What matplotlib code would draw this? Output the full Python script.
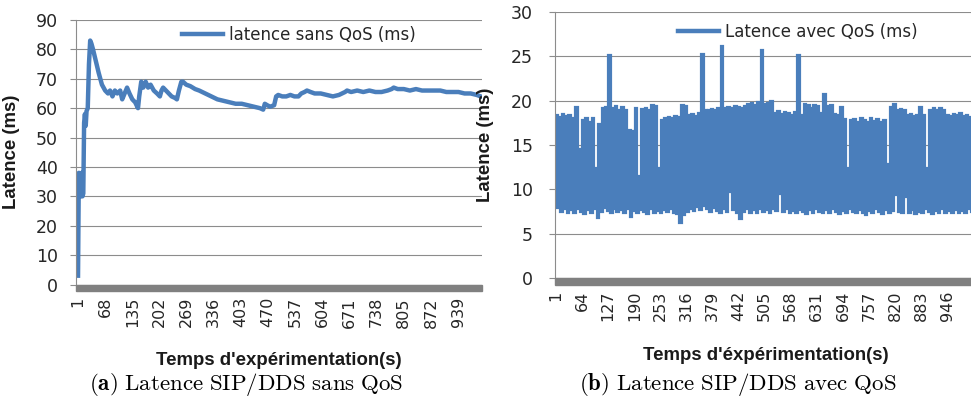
import numpy as np
import matplotlib.pyplot as plt
from matplotlib.patches import Rectangle

plt.rcParams['mathtext.fontset'] = 'cm'

BLEU = '#4a7ebb'
GRILLE = '#8c8c8c'
TEXTE = '#262626'
OUTPUT_IMAGE = 'out.png'

# (a) latence SIP/DDS sans QoS
temps_a = [1, 3, 5, 8, 10, 12, 14, 16, 18, 20, 22, 25, 28, 31, 34, 38, 45, 52,
           60, 68, 75, 80, 86, 92, 98, 105, 110, 116, 122, 128, 135, 142, 149,
           152, 157, 162, 168, 174, 180, 188, 196, 203, 207, 211, 218, 225, 232,
           240, 245, 250, 256, 260, 268, 278, 290, 300, 315, 330, 345, 360, 375,
           390, 405, 420, 435, 450, 458, 462, 468, 475, 485, 490, 495, 505, 515,
           525, 535, 545, 552, 560, 566, 575, 585, 600, 615, 630, 645, 660, 665,
           675, 690, 705, 720, 735, 750, 765, 775, 780, 790, 805, 820, 835, 850,
           865, 880, 895, 910, 925, 940, 955, 970, 985, 995]
latence_a = [3, 38, 36, 30, 38, 30, 31, 55, 58, 54, 59, 60, 75, 83, 82, 80, 76, 72,
             68, 66, 65, 66, 64, 66, 65, 66, 63, 65, 67, 65, 63, 62, 60,
             64, 69, 67, 69, 67, 68, 66, 65, 64, 66, 67, 66, 65, 64,
             63.5, 63, 66, 69, 69, 68, 67.5, 66.5, 66, 65, 64, 63, 62.5, 62,
             61.5, 61.5, 61, 60.5, 60, 59.5, 61.5, 61, 60.5, 61, 64, 64.5, 64, 64,
             64.5, 64, 64, 65, 65.5, 66, 65.5, 65, 65, 64.5, 64, 64.5, 65.5, 66,
             65.5, 66, 65.5, 66, 65.5, 65.5, 66, 66.5, 67, 66.5, 66.5, 66, 66.5, 66,
             66, 66, 66, 65.5, 65.5, 65.5, 65, 65, 64.5, 64]

# (b) latence SIP/DDS avec QoS : sommets et creux successifs du signal
temps_pics_b = np.arange(1, 1002, 8)
pics_b = [18.4, 18.2, 18.5, 18.3, 18.4, 18.0, 19.3, 14.6, 17.8, 18.0,
          17.6, 18.0, 12.4, 17.4, 19.2, 19.3, 25.2, 19.2, 19.4, 19.0,
          19.3, 19.0, 16.7, 16.6, 19.2, 11.5, 19.1, 19.2, 18.9, 19.5,
          19.4, 12.4, 17.8, 18.0, 18.2, 18.1, 18.3, 18.2, 19.5, 19.4,
          18.4, 18.5, 18.3, 18.6, 25.3, 19.0, 18.9, 19.1, 19.0, 19.2,
          26.2, 19.2, 19.3, 19.2, 19.4, 19.3, 19.2, 19.4, 19.6, 19.7,
          19.5, 19.8, 25.7, 19.6, 19.7, 20.0, 18.6, 18.8, 18.5, 18.7,
          18.6, 18.4, 18.7, 25.1, 18.4, 19.6, 19.5, 19.2, 19.5, 19.4,
          18.6, 20.7, 19.4, 19.5, 18.5, 18.4, 19.3, 17.9, 12.4, 17.8,
          17.9, 17.6, 18.0, 17.8, 17.6, 18.1, 17.7, 17.9, 17.6, 17.8,
          12.9, 19.3, 19.6, 19.0, 19.1, 19.0, 18.4, 18.5, 18.3, 18.4,
          19.3, 18.4, 12.4, 19.0, 19.2, 18.9, 19.2, 19.0, 18.4, 18.3,
          18.5, 18.4, 18.6, 18.3, 18.4, 18.2]
temps_creux_b = np.arange(5, 1006, 8)
creux_b = [8.0, 7.6, 7.9, 7.5, 7.8, 7.4, 7.9, 7.6, 7.3, 7.8,
           7.5, 7.9, 6.9, 7.6, 8.0, 7.7, 7.4, 7.9, 7.6, 7.8,
           7.5, 7.9, 7.0, 7.7, 7.4, 7.8, 7.6, 7.3, 7.9, 7.5,
           7.7, 7.4, 7.8, 7.6, 7.9, 7.5, 7.3, 6.3, 7.2, 7.6,
           7.9, 7.7, 8.1, 7.8, 8.2, 7.9, 7.6, 8.0, 7.7, 7.5,
           7.9, 7.6, 9.8, 7.8, 7.5, 6.8, 7.6, 7.9, 7.5, 7.8,
           7.4, 7.9, 7.6, 7.8, 7.5, 7.9, 7.7, 9.6, 7.6, 7.9,
           7.5, 7.7, 7.4, 7.8, 7.6, 7.3, 7.8, 7.5, 7.9, 7.6,
           7.4, 7.8, 7.5, 7.9, 7.6, 7.3, 7.7, 7.5, 7.9, 7.6,
           7.4, 7.8, 7.5, 7.2, 7.7, 7.5, 7.9, 7.6, 7.3, 7.8,
           7.5, 7.7, 9.5, 7.6, 7.4, 9.2, 7.5, 7.8, 7.3, 7.6,
           7.4, 7.9, 7.6, 7.3, 7.7, 7.5, 7.9, 7.4, 7.7, 7.5,
           7.8, 7.4, 7.7, 7.5, 7.9, 7.6]

etiquettes_a = list(range(1, 1000, 67))
etiquettes_b = list(range(1, 1000, 63))
graduations_a = list(range(0, 91, 10))
graduations_b = list(range(0, 31, 5))


def style_axe(ax, xlim, ymax, yticks, xticks, ypad, bar_h):
    ax.set_xlim(*xlim)
    ax.set_ylim(0, ymax)
    ax.set_yticks(yticks)
    ax.set_xticks(xticks)
    ax.set_axisbelow(True)
    ax.grid(axis='y', color=GRILLE, lw=0.8)
    for side in ('top', 'right', 'bottom'):
        ax.spines[side].set_visible(False)
    ax.spines['left'].set_color(GRILLE)
    ax.spines['left'].set_linewidth(0.8)
    ax.tick_params(axis='y', length=4.5, width=0.8, color=GRILLE, pad=ypad,
                   labelsize=12.5, labelcolor=TEXTE)
    ax.tick_params(axis='x', length=0, pad=9, labelsize=11.5, labelcolor=TEXTE,
                   labelrotation=90)
    # barre grise de l'axe horizontal
    ax.add_patch(Rectangle((0, -bar_h), 1, bar_h, transform=ax.transAxes,
                           color='#808080', clip_on=False, zorder=3))


fig = plt.figure(figsize=(9.71, 4.01), dpi=100)
ax_a = fig.add_axes([76 / 971, 1 - 284.5 / 401, 406 / 971, 264.5 / 401])
ax_b = fig.add_axes([555 / 971, 1 - 278 / 401, 422 / 971, 266 / 401])

style_axe(ax_a, (-4, 998), 90, graduations_a, etiquettes_a, 8.6, 6.5 / 264.5)
style_axe(ax_b, (-1.5, 1018), 30, graduations_b, etiquettes_b, 11.5, 7 / 266)

ax_a.plot(temps_a, latence_a, color=BLEU, lw=3.2, solid_joinstyle='round',
          label='latence sans QoS (ms)')

# signal oscillant : sommet, creux, sommet, ...
x_b = np.empty(len(pics_b) * 2)
y_b = np.empty(len(pics_b) * 2)
x_b[0::2] = temps_pics_b
x_b[1::2] = temps_creux_b
y_b[0::2] = pics_b
y_b[1::2] = creux_b
ax_b.plot(x_b, y_b, color=BLEU, lw=2.3, drawstyle='steps-mid',
          solid_joinstyle='miter', label='Latence avec QoS (ms)')

for ax, x_leg, y_leg in ((ax_a, 0.261, 0.943), (ax_b, 0.291, 0.925)):
    leg = ax.legend(loc='center left', bbox_to_anchor=(x_leg, y_leg),
                    frameon=False, fontsize=12, handlelength=2.45,
                    handletextpad=0.4, borderpad=0, borderaxespad=0)
    leg.get_lines()[0].set_linewidth(3.2)
    leg.get_lines()[0].set_drawstyle('default')
    for t in leg.get_texts():
        t.set_color(TEXTE)

lab = dict(fontfamily='Liberation Sans', fontweight='bold', fontsize=13.4,
           color='#1a1a1a')
ax_a.set_ylabel('Latence (ms)', **lab)
ax_a.yaxis.set_label_coords((20 - 76) / 406, 0.5)
ax_a.set_xlabel("Temps d'expérimentation(s)", **lab)
ax_a.xaxis.set_label_coords(0.5, (284.5 - 352) / 264.5)

ax_b.set_ylabel('Latence (ms)', **lab)
ax_b.yaxis.set_label_coords((494 - 555) / 422, 0.5)
ax_b.set_xlabel("Temps d'éxpérimentation(s)", **lab)
ax_b.xaxis.set_label_coords(0.5, (278 - 347) / 266)

fig.text(246 / 971, 1 - 385 / 401,
         r'$\mathbf{(a)}\ \mathrm{Latence\ SIP/DDS\ sans\ QoS}$',
         ha='center', va='center', fontsize=16.5)
fig.text(738 / 971, 1 - 385 / 401,
         r'$\mathbf{(b)}\ \mathrm{Latence\ SIP/DDS\ avec\ QoS}$',
         ha='center', va='center', fontsize=16.5)

fig.savefig(OUTPUT_IMAGE, dpi=100)
plt.close(fig)
